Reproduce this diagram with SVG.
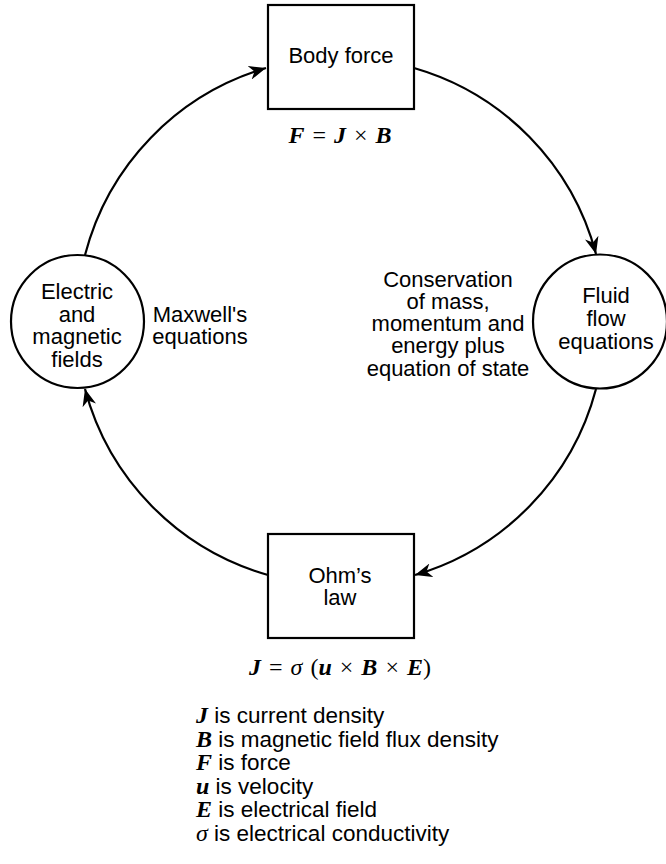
<svg xmlns="http://www.w3.org/2000/svg" width="666" height="864" viewBox="0 0 666 864">
<style>
.shape{fill:#fff;stroke:#000;stroke-width:2.2}
.conn{fill:none;stroke:#000;stroke-width:2.2}
.t{font-family:"Liberation Sans",Arial,sans-serif;font-size:22px;fill:#000;text-anchor:middle}
.lg{font-family:"Liberation Sans",Arial,sans-serif;font-size:22.5px;fill:#000}
.m{font-family:"Liberation Serif","Times New Roman",serif;font-size:24px;fill:#000;text-anchor:middle;word-spacing:2px}
.bi{font-family:"Liberation Serif","Times New Roman",serif;font-weight:bold;font-style:italic}
.lgm{font-size:24px}
.it{font-family:"Liberation Serif","Times New Roman",serif;font-style:italic}
</style>
<defs>
<marker id="ah" markerUnits="userSpaceOnUse" markerWidth="18" markerHeight="14" refX="17" refY="7" orient="auto">
<path d="M0,0 L17,7 L0,14 L5,7 z" fill="#000"/>
</marker>
</defs>
<g id="connectors">
<path class="conn" d="M85,255 A264,264 0 0 1 266,68" marker-end="url(#ah)"/>
<path class="conn" d="M414,68 A264,264 0 0 1 596,254" marker-end="url(#ah)"/>
<path class="conn" d="M596,389 A264,264 0 0 1 415,575" marker-end="url(#ah)"/>
<path class="conn" d="M268,575 A264,264 0 0 1 85,389" marker-end="url(#ah)"/>
</g>
<g id="body-force">
<rect class="shape" x="268" y="5" width="146" height="104"/>
<text class="t" x="341" y="63">Body force</text>
<text class="m" x="340" y="143"><tspan class="bi">F</tspan> = <tspan class="bi">J</tspan> × <tspan class="bi">B</tspan></text>
</g>
<g id="fluid-flow">
<circle class="shape" cx="600" cy="321.5" r="67"/>
<text class="t" x="606" y="303">Fluid</text>
<text class="t" x="606" y="326">flow</text>
<text class="t" x="606" y="349">equations</text>
</g>
<g id="conservation-label">
<text class="t" x="448" y="287">Conservation</text>
<text class="t" x="448" y="309">of mass,</text>
<text class="t" x="448" y="331">momentum and</text>
<text class="t" x="448" y="353">energy plus</text>
<text class="t" x="448" y="376">equation of state</text>
</g>
<g id="ohms-law">
<rect class="shape" x="268" y="534" width="146" height="104"/>
<text class="t" x="340" y="583">Ohm’s</text>
<text class="t" x="340" y="605">law</text>
<text class="m" x="340" y="675"><tspan class="bi">J</tspan> = <tspan class="it">σ</tspan> (<tspan class="bi">u</tspan> × <tspan class="bi">B</tspan> × <tspan class="bi">E</tspan>)</text>
</g>
<g id="electric-fields">
<circle class="shape" cx="77.5" cy="321.5" r="66.5"/>
<text class="t" x="77" y="299">Electric</text>
<text class="t" x="77" y="322">and</text>
<text class="t" x="77" y="344">magnetic</text>
<text class="t" x="77" y="367">fields</text>
</g>
<g id="maxwell-label">
<text class="t" x="200" y="322">Maxwell's</text>
<text class="t" x="200" y="344">equations</text>
</g>
<g id="legend">
<text class="lg" x="196" y="723"><tspan class="bi lgm">J</tspan> is current density</text>
<text class="lg" x="196" y="746.5"><tspan class="bi lgm">B</tspan> is magnetic field flux density</text>
<text class="lg" x="196" y="770"><tspan class="bi lgm">F</tspan> is force</text>
<text class="lg" x="196" y="793.5"><tspan class="bi lgm">u</tspan> is velocity</text>
<text class="lg" x="196" y="817"><tspan class="bi lgm">E</tspan> is electrical field</text>
<text class="lg" x="196" y="840.5"><tspan class="it lgm">σ</tspan> is electrical conductivity</text>
</g>
</svg>
